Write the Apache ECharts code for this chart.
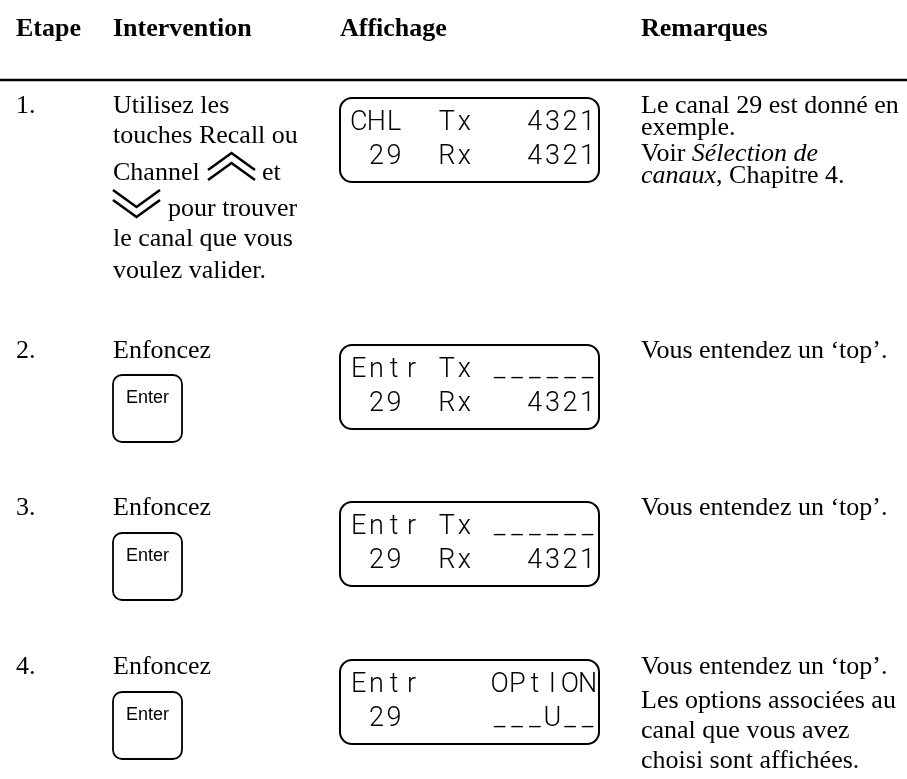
<!DOCTYPE html>
<html><head><meta charset="utf-8">
<script src="https://cdn.jsdelivr.net/npm/echarts@6/dist/echarts.min.js"></script>
<style>html,body{margin:0;padding:0;background:#fff}#c{width:907px;height:779px}</style>
</head><body><div id="c"></div>
<script>
// ---- content ----
const headers = ['Etape', 'Intervention', 'Affichage', 'Remarques'];
const steps = ['1.', '2.', '3.', '4.'];
const interventionLines = [
  ['Utilisez les', 'touches Recall ou', 'Channel', 'pour trouver', 'le canal que vous', 'voulez valider.'],
  ['Enfoncez'],
  ['Enfoncez'],
  ['Enfoncez']
];
const channelWord = 'et';
const keyLabels = ['', 'Enter', 'Enter', 'Enter'];
const displayTop = ['CHL  Tx   4321', 'Entr Tx ______', 'Entr Tx ______', 'Entr    OPtION'];
const displayBottom = [' 29  Rx   4321', ' 29  Rx   4321', ' 29  Rx   4321', ' 29     ___U__'];
const remarks = [
  [['Le canal 29 est donné en', 'exemple.'], ['Voir {i|Sélection de}', '{i|canaux}, Chapitre 4.']],
  [['Vous entendez un ‘top’.']],
  [['Vous entendez un ‘top’.']],
  [['Vous entendez un ‘top’.'], ['Les options associées au', 'canal que vous avez', 'choisi sont affichées.']]
];

// ---- layout ----
const SERIF = '"Liberation Serif","Times New Roman",serif';
const SANS = '"Liberation Sans",Arial,sans-serif';
const FS = 26;
const colX = [16, 113, 340, 641];
const rowBase = [115, 360, 517, 676];     // baseline of first text line
const boxTop = [98, 345, 502, 660];
const keyTop = [0, 375, 533, 692];
const remarkStep = [22, 30, 30, 30];
const remarkGap = [4, 4, 4, 4];
const mid = b => b - 0.33 * FS;

const g = [];
function txt(x, y, text, opts) {
  const st = Object.assign({
    text: text, fill: '#000', fontFamily: SERIF, fontSize: FS,
    align: 'left', verticalAlign: 'middle', textAlign: 'left', textVerticalAlign: 'middle'
  }, opts || {});
  g.push({ type: 'text', x: x, y: y, style: st });
}

// headers
headers.forEach((h, i) => txt(colX[i], mid(38), h, { fontWeight: 'bold' }));
g.push({ type: 'line', shape: { x1: 0, y1: 80, x2: 907, y2: 80 }, style: { stroke: '#000', lineWidth: 2.6 } });

steps.forEach((s, r) => {
  const b = rowBase[r];
  txt(colX[0], mid(b), s);
  // intervention
  const lines = interventionLines[r];
  if (r === 0) {
    const ys = [0, 30, 67, 103, 133, 165].map(d => b + d);
    txt(113, mid(ys[0]), lines[0]);
    txt(113, mid(ys[1]), lines[1]);
    txt(113, mid(ys[2]), lines[2]);
    txt(262, mid(ys[2]), channelWord);
    // double chevron up
    [[170, 153], [180, 163]].forEach(p => g.push({ type: 'polyline',
      shape: { points: [[208, p[0]], [231.5, p[1]], [255, p[0]]] },
      style: { stroke: '#000', lineWidth: 2.6, fill: null } }));
    txt(168, mid(ys[3]), lines[3]);
    [[190, 207], [200, 217]].forEach(p => g.push({ type: 'polyline',
      shape: { points: [[113, p[0]], [136.5, p[1]], [160, p[0]]] },
      style: { stroke: '#000', lineWidth: 2.6, fill: null } }));
    txt(113, mid(ys[4]), lines[4]);
    txt(113, mid(ys[5]), lines[5]);
  } else {
    txt(113, mid(b), lines[0]);
    g.push({ type: 'rect', shape: { x: 113, y: keyTop[r], width: 69, height: 67, r: 9 },
      style: { fill: 'none', stroke: '#000', lineWidth: 1.8 } });
    txt(147.5, keyTop[r] + 23, keyLabels[r], { fontFamily: SANS, fontSize: 18, align: 'center', textAlign: 'center' });
  }
  // LCD display
  const bt = boxTop[r];
  g.push({ type: 'rect', shape: { x: 340, y: bt, width: 259, height: 84, r: 12 },
    style: { fill: 'none', stroke: '#000', lineWidth: 2 } });
  [[displayTop[r], bt + 25], [displayBottom[r], bt + 59]].forEach(([line, cy]) => {
    for (let i = 0; i < line.length; i++) {
      const ch = line[i];
      if (ch === ' ') continue;
      txt(350 + 17.6 * i + 8.8, cy, ch, { fontFamily: 'Roboto', fontWeight: 300, fontSize: 27, align: 'center', textAlign: 'center' });
    }
  });
  // remarks
  let y = b;
  remarks[r].forEach((para, pi) => {
    if (pi > 0) y += remarkGap[r];
    para.forEach((ln) => {
      g.push({ type: 'text', x: colX[3], y: mid(y), style: {
        text: ln, fill: '#000', fontFamily: SERIF, fontSize: FS,
        align: 'left', verticalAlign: 'middle', textAlign: 'left', textVerticalAlign: 'middle',
        rich: { i: { fontStyle: 'italic', fontFamily: SERIF, fontSize: FS, fill: '#000' } }
      } });
      y += remarkStep[r];
    });
  });
});

const chart = echarts.init(document.getElementById('c'), null, { renderer: 'canvas' });
chart.setOption({ backgroundColor: '#fff', animation: false, graphic: { elements: g } });
</script>
</body></html>
